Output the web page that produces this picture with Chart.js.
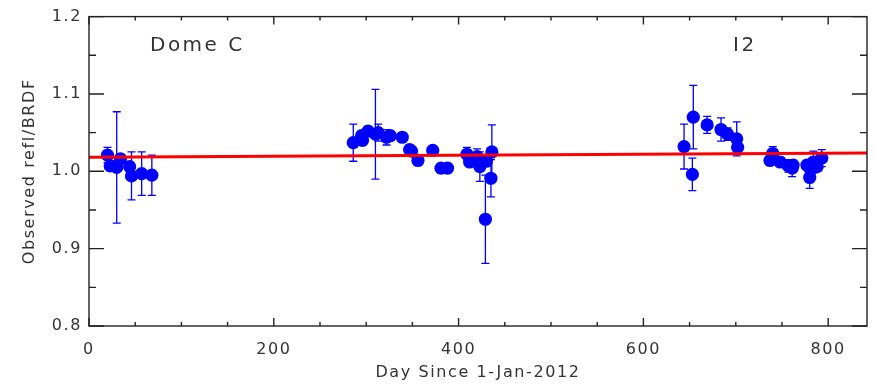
<!DOCTYPE html>
<html>
<head>
<meta charset="utf-8">
<script src="https://cdn.jsdelivr.net/npm/chart.js@4"></script>
<style>
  html, body { margin: 0; padding: 0; background: #fff; }
  #wrap { width: 875px; height: 385px; }
</style>
</head>
<body>
<div id="wrap"><canvas id="reflChart"></canvas></div>
<script>
// observation day (since 1-Jan-2012), observed refl/BRDF ratio and its 1-sigma error
const days = [
  20, 23, 30, 34, 44, 46, 57, 68,
  286, 296, 295, 302, 310, 313, 322, 326, 339, 347, 349, 356, 372, 381, 388,
  409, 412, 420, 423, 430, 429, 436, 435,
  644, 654, 653, 669, 684, 691, 701, 702,
  740, 737, 748, 757, 761, 762, 777, 781, 780, 784, 788, 793
];
const refl = [
  1.021, 1.007, 1.005, 1.016, 1.006, 0.994, 0.997, 0.995,
  1.037, 1.040, 1.046, 1.052, 1.048, 1.050, 1.044, 1.046, 1.044, 1.028, 1.026, 1.014, 1.027, 1.004, 1.004,
  1.022, 1.012, 1.019, 1.006, 1.013, 0.938, 1.025, 0.991,
  1.032, 1.070, 0.996, 1.060, 1.054, 1.048, 1.042, 1.031,
  1.023, 1.014, 1.012, 1.007, 1.004, 1.008, 1.008, 1.002, 0.992, 1.012, 1.006, 1.017
];
const errs = [
  0.010, 0.006, 0.072, 0.006, 0.006, 0.031, 0.028, 0.026,
  0.024, 0.006, 0.006, 0.006, 0.058, 0.011, 0.010, 0.006, 0.006, 0.006, 0.006, 0.006, 0.006, 0.006, 0.006,
  0.009, 0.006, 0.010, 0.019, 0.006, 0.057, 0.035, 0.024,
  0.029, 0.041, 0.021, 0.011, 0.015, 0.008, 0.022, 0.008,
  0.009, 0.006, 0.006, 0.008, 0.011, 0.006, 0.006, 0.008, 0.014, 0.014, 0.006, 0.011
];

// linear fit drawn in red
const fitX = [0, 842];
const fitY = [1.0183, 1.0236];

// site labels
const notes = [
  { text: 'Dome C', day: 66, value: 1.155 },
  { text: 'I2', day: 697, value: 1.155 }
];

const ink = '#333';
const blue = '#0000ff';
const font = '"DejaVu Sans", sans-serif';

const spacing = {
  id: 'spacing',
  beforeUpdate(chart) { chart.ctx.letterSpacing = '1.6px'; },
  beforeDraw(chart) { chart.ctx.letterSpacing = '1.6px'; }
};

const errorBars = {
  id: 'errorBars',
  beforeDatasetsDraw(chart) {
    const { ctx, scales: { x, y } } = chart;
    ctx.save();
    ctx.strokeStyle = blue;
    ctx.lineWidth = 1.3;
    days.forEach((d, i) => {
      const px = x.getPixelForValue(d);
      const top = y.getPixelForValue(refl[i] + errs[i]);
      const bot = y.getPixelForValue(refl[i] - errs[i]);
      ctx.beginPath();
      ctx.moveTo(px, top); ctx.lineTo(px, bot);
      ctx.moveTo(px - 4, top); ctx.lineTo(px + 4, top);
      ctx.moveTo(px - 4, bot); ctx.lineTo(px + 4, bot);
      ctx.stroke();
    });
    ctx.restore();
  }
};

// IDL-like box with inward ticks on all four sides
const frame = {
  id: 'frame',
  afterDraw(chart) {
    const { ctx, chartArea: a, scales: { x, y } } = chart;
    ctx.save();
    ctx.strokeStyle = '#222';
    ctx.lineWidth = 1.4;
    ctx.strokeRect(a.left, a.top, a.right - a.left, a.bottom - a.top);
    ctx.beginPath();
    for (let v = 0; v <= x.max + 1e-9; v += 50) {
      const px = x.getPixelForValue(v);
      const len = v % 200 === 0 ? 8 : 4;
      ctx.moveTo(px, a.bottom); ctx.lineTo(px, a.bottom - len);
      ctx.moveTo(px, a.top); ctx.lineTo(px, a.top + len);
    }
    for (let k = 0; k <= 8; k++) {
      const v = 0.8 + k * 0.05;
      const py = y.getPixelForValue(v);
      const len = k % 2 === 0 ? 15 : 7;
      ctx.moveTo(a.left, py); ctx.lineTo(a.left + len, py);
      ctx.moveTo(a.right, py); ctx.lineTo(a.right - len, py);
    }
    ctx.stroke();

    ctx.fillStyle = ink;
    ctx.font = '20px ' + font;
    ctx.letterSpacing = '2.5px';
    ctx.textBaseline = 'alphabetic';
    ctx.textAlign = 'left';
    notes.forEach(n => {
      ctx.fillText(n.text, x.getPixelForValue(n.day), y.getPixelForValue(n.value));
    });
    ctx.restore();
  }
};

window.addEventListener('load', () => {
  const ctx = document.getElementById('reflChart').getContext('2d');
  new Chart(ctx, {
    type: 'scatter',
    data: {
      datasets: [
        {
          type: 'line',
          label: 'Fit',
          data: fitX.map((d, i) => ({ x: d, y: fitY[i] })),
          borderColor: '#ff0000',
          borderWidth: 3,
          pointRadius: 0,
          fill: false,
          order: 0
        },
        {
          label: 'Observed',
          data: days.map((d, i) => ({ x: d, y: refl[i] })),
          backgroundColor: blue,
          borderWidth: 0,
          pointRadius: 6.6,
          order: 1
        }
      ]
    },
    options: {
      responsive: true,
      maintainAspectRatio: false,
      animation: false,
      layout: { padding: { top: 7, right: 8, left: 0, bottom: 0 } },
      plugins: {
        legend: { display: false },
        tooltip: { enabled: false }
      },
      scales: {
        x: {
          type: 'linear',
          min: 0,
          max: 842,
          grid: { display: false, drawTicks: false },
          border: { display: false },
          ticks: {
            stepSize: 200,
            includeBounds: false,
            padding: 14,
            color: ink,
            maxRotation: 0,
            font: { family: font, size: 16 }
          },
          title: {
            display: true,
            text: 'Day Since 1-Jan-2012',
            color: ink,
            font: { family: font, size: 16 },
            padding: { top: 0, bottom: 3 }
          },
          afterFit(scale) { scale.height = 59; }
        },
        y: {
          min: 0.8,
          max: 1.2,
          grid: { display: false, drawTicks: false },
          border: { display: false },
          ticks: {
            stepSize: 0.1,
            padding: 7,
            color: ink,
            font: { family: font, size: 16 },
            callback: v => v.toFixed(1)
          },
          title: {
            display: true,
            text: 'Observed refl/BRDF',
            color: ink,
            font: { family: font, size: 16 },
            padding: { top: 20, bottom: 0 }
          },
          afterFit(scale) { scale.width = 89; }
        }
      }
    },
    plugins: [spacing, errorBars, frame]
  });
});
</script>
</body>
</html>
